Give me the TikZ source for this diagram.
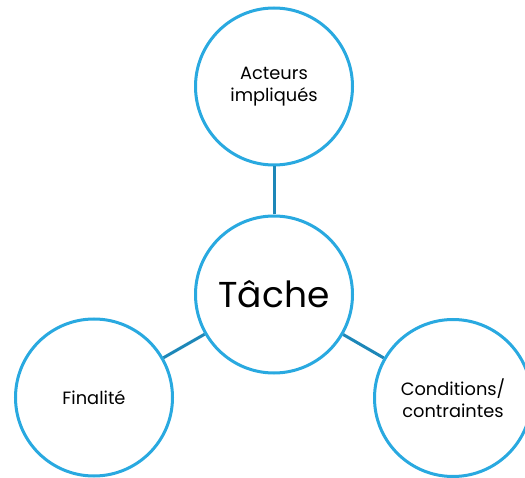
\documentclass[tikz,border=0pt]{standalone}
\usepackage{fontspec}
\setmainfont{Poppins}
\definecolor{ringblue}{HTML}{29A9E0}
\definecolor{linkblue}{HTML}{1D87B8}
\begin{document}
\begin{tikzpicture}[x=1pt,y=-1pt,
  bubble/.style={circle, draw=ringblue, line width=3pt, fill=white,
    minimum size=157pt, inner sep=0pt, align=center, font=\fontsize{17.8}{22}\selectfont},
  link/.style={draw=linkblue, line width=3pt}]
\useasboundingbox (0,0) rectangle (525,478);
\clip (0,0) rectangle (525,478);
\node[bubble] (top) at (274,86.5) {Acteurs\\impliqués};
\node[bubble, font=\fontsize{36}{42}\selectfont] (mid) at (274,294.5) {Tâche};
\node[bubble] (left) at (94,397.5) {Finalité};
\node[bubble] (right) at (453,398) {Conditions/\\contraintes};
\draw[link] (mid) -- (top);
\draw[link] (mid) -- (left);
\draw[link] (mid) -- (right);
\end{tikzpicture}
\end{document}
